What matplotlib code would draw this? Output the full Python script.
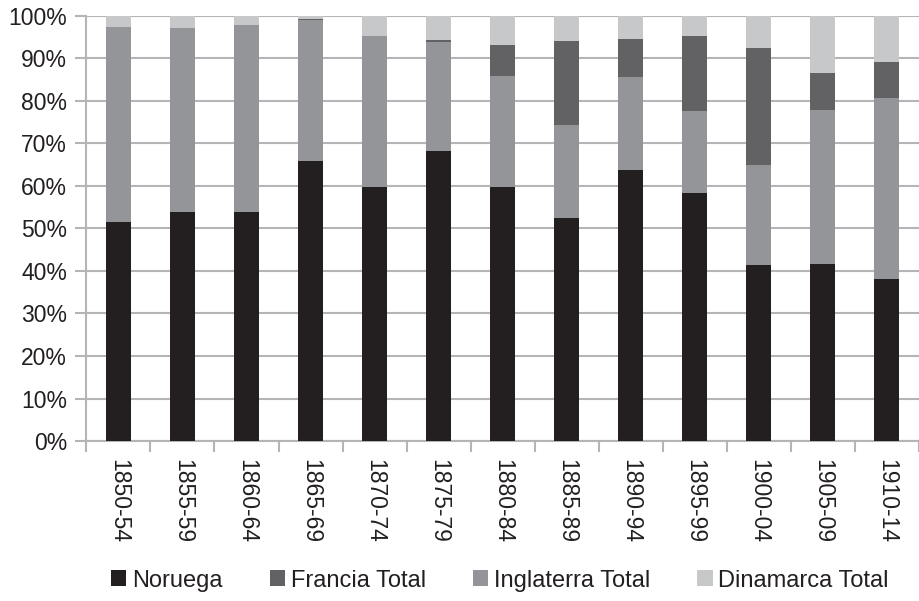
import matplotlib
matplotlib.use("Agg")
import matplotlib.pyplot as plt
from matplotlib.ticker import FixedLocator, PercentFormatter
import numpy as np

periods = ["1850-54", "1855-59", "1860-64", "1865-69", "1870-74", "1875-79",
           "1880-84", "1885-89", "1890-94", "1895-99", "1900-04", "1905-09",
           "1910-14"]

# Shares per period (percent)
noruega    = [51.6, 53.9, 53.8, 65.9, 59.8, 68.1, 59.8, 52.5, 63.8, 58.4, 41.3, 41.7, 38.0]
inglaterra = [45.8, 43.1, 43.9, 33.0, 35.5, 25.6, 26.0, 21.7, 21.8, 19.1, 23.6, 36.2, 42.6]
francia    = [0.0, 0.0, 0.0, 0.3, 0.0, 0.6, 7.2, 19.9, 8.8, 17.8, 27.5, 8.5, 8.4]
dinamarca  = [2.6, 3.0, 2.3, 0.8, 4.7, 5.7, 7.0, 5.9, 5.6, 4.7, 7.6, 13.6, 11.0]

colors = {
    "Noruega": "#231f20",
    "Francia Total": "#626264",
    "Inglaterra Total": "#949598",
    "Dinamarca Total": "#c7c8ca",
}
grid_color = "#b5b5b8"
text_color = "#231f20"

plt.rcParams["font.family"] = ["Liberation Sans", "DejaVu Sans"]

fig = plt.figure(figsize=(9.19, 6.01), dpi=100)
ax = fig.add_axes([0.094, 0.266, 0.906, 0.708])

x = np.arange(len(periods))
w = 0.39

nor = np.array(noruega)
ing = np.array(inglaterra)
fra = np.array(francia)
din = np.array(dinamarca)

bars_nor = ax.bar(x, nor, w, color=colors["Noruega"], zorder=3)
bars_ing = ax.bar(x, ing, w, bottom=nor, color=colors["Inglaterra Total"], zorder=3)
bars_fra = ax.bar(x, fra, w, bottom=nor + ing, color=colors["Francia Total"], zorder=3)
bars_din = ax.bar(x, din, w, bottom=nor + ing + fra, color=colors["Dinamarca Total"], zorder=3)

ax.set_xlim(-0.5, len(periods) - 0.5)
ax.set_ylim(0, 100)

ax.yaxis.set_major_locator(FixedLocator(np.arange(0, 101, 10)))
ax.yaxis.set_major_formatter(PercentFormatter(decimals=0))
ax.grid(axis="y", color=grid_color, linewidth=1.5, zorder=0)

# category labels centered, ticks at boundaries
ax.set_xticks(x)
ax.set_xticklabels(periods, rotation=270, fontsize=16.5, color=text_color)
ax.set_xticks(np.arange(-0.5, len(periods) + 0.5, 1), minor=True)
ax.tick_params(axis="x", which="major", length=0, pad=13)
ax.tick_params(axis="x", which="minor", length=8, width=1.5, color=grid_color)
ax.tick_params(axis="y", length=8, width=1.5, color=grid_color, labelsize=16.5,
               labelcolor=text_color, pad=6)
for lab in ax.get_xticklabels():
    lab.set_va("top")
    lab.set_ha("center")

for s in ["top", "right"]:
    ax.spines[s].set_visible(False)
for s in ["left", "bottom"]:
    ax.spines[s].set_color(grid_color)
    ax.spines[s].set_linewidth(1.5)

handles = [bars_nor, bars_fra, bars_ing, bars_din]
labels = ["Noruega", "Francia Total", "Inglaterra Total", "Dinamarca Total"]
fig.legend(handles, labels, loc="center", bbox_to_anchor=(0.544, 0.034), ncol=4,
           frameon=False, fontsize=17, handlelength=0.64, handleheight=0.64,
           handletextpad=0.25, columnspacing=2.0, labelcolor=text_color)

fig.savefig("out.png", dpi=100)
